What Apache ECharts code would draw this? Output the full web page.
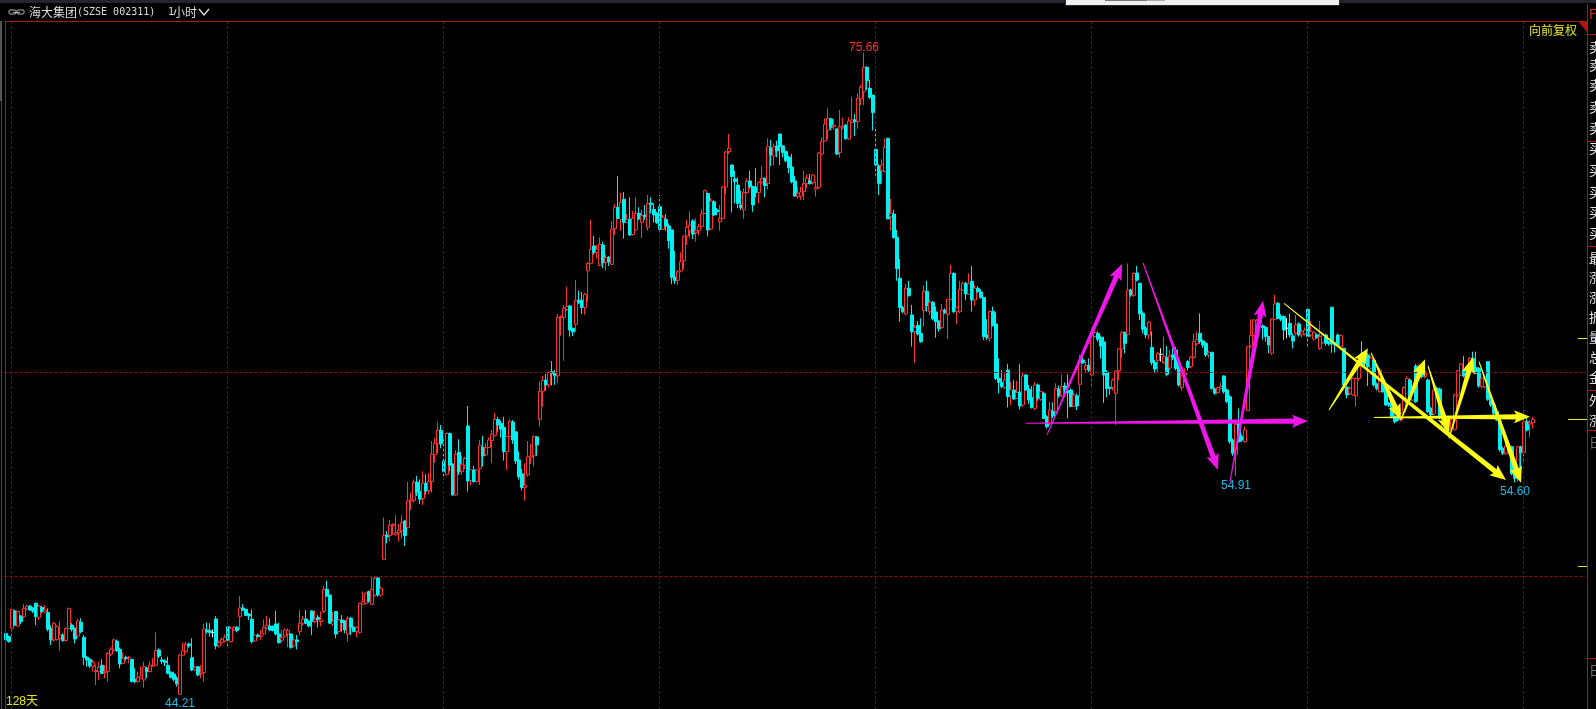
<!DOCTYPE html>
<html><head><meta charset="utf-8">
<style>html,body{margin:0;padding:0;background:#000;overflow:hidden}#c{width:1596px;height:709px}</style>
<script src="https://cdn.jsdelivr.net/npm/echarts@6/dist/echarts.min.js"></script>
</head><body><div id="c"></div>
<script>
// each row: [open, close, low, high]
const candlesA=[[47.20,46.88,46.47,47.34],[47.04,46.80,46.75,47.10],[47.45,48.38,46.96,48.45],[48.30,47.61,47.55,48.36],[47.56,48.27,47.5,48.3],[48.05,47.78,47.65,48.1],[48.02,48.43,47.95,48.63],[48.40,48.51,48.35,48.6],[48.54,48.35,48.3,48.6],[48.43,48.3,48.2,48.5],[48.68,48.02,47.61,48.7],[47.99,48.54,47.86,48.6],[48.48,48.28,48.2,48.55],[48.25,48.35,48.2,48.59],[48.22,47.40,47.3,48.43],[47.45,46.88,46.63,47.6],[46.88,47.70,46.8,47.75],[46.91,47.53,46.85,47.61],[46.96,47.12,46.35,47.81],[47.12,46.85,46.8,47.2],[46.85,47.45,46.8,47.5],[47.45,48.43,47.4,48.45],[47.61,47.40,47.3,47.7],[47.45,46.93,46.71,47.5],[47.07,47.81,47.0,47.91],[47.74,47.29,47.2,47.94],[47.01,46.03,45.65,47.12],[46.03,45.90,45.57,46.1],[45.93,45.60,45.49,46.0],[45.60,45.78,45.33,45.9],[45.33,45.38,44.67,45.65],[45.33,45.54,44.92,45.82],[45.64,45.24,45.21,45.93],[45.28,45.34,45.0,45.65],[45.33,46.22,44.84,46.3],[46.19,46.42,46.1,46.52],[46.39,46.88,46.3,46.96],[46.81,46.35,46.3,46.9],[46.42,45.70,45.49,46.5],[45.73,45.98,45.7,46.26],[46.03,45.96,45.87,46.1],[46.0,46.03,45.73,46.1],[45.93,44.84,44.8,45.95],[44.95,44.84,44.75,45.49],[44.84,45.05,44.8,45.33],[45.0,45.11,44.95,45.57],[44.92,45.57,44.54,45.82],[45.5,45.33,45.0,45.57],[45.33,45.64,45.3,45.82],[45.6,45.64,45.55,45.98],[45.64,46.36,45.6,47.25],[46.39,46.09,46.0,46.47],[45.9,45.83,45.7,46.06],[45.85,45.77,45.6,45.93],[45.64,45.24,45.2,46.06],[45.29,45.05,45.0,45.35],[45.21,44.95,44.84,45.33],[45.01,44.72,44.59,45.1],[44.21,46.14,44.21,46.2],[46.13,46.34,46.1,46.75],[46.31,46.68,46.25,46.8],[46.68,46.6,46.5,46.75],[46.01,45.41,45.35,46.96],[45.41,45.54,45.35,45.6],[45.57,45.16,45.1,45.6],[45.21,45.24,45.0,45.65],[45.28,47.42,44.84,47.66],[47.37,47.29,47.2,47.73],[47.33,47.24,47.04,47.7],[47.24,47.24,47.01,47.4],[47.91,46.58,46.42,48.05],[46.58,46.76,46.5,46.85],[46.75,46.91,46.7,47.0],[46.83,47.01,46.75,47.16],[47.53,46.88,46.45,47.56],[46.80,47.45,46.75,47.5],[47.37,47.5,47.3,47.55],[47.5,47.34,47.25,47.55],[48.02,48.45,47.4,49.03],[48.45,48.35,48.3,48.63],[48.38,48.09,48.05,48.4],[48.15,48.05,47.86,48.2],[47.89,46.8,46.71,48.38],[46.83,47.11,46.8,47.15],[47.12,47.04,47.0,47.2],[47.04,47.07,46.88,47.37],[47.17,47.5,47.1,47.89],[47.47,47.6,47.4,48.05],[47.56,47.37,47.3,47.94],[47.53,47.34,47.3,47.6],[47.66,47.17,47.1,48.32],[47.17,46.75,46.7,47.73],[46.86,47.01,46.8,47.37],[47.07,47.37,47.0,47.45],[47.17,47.34,46.52,47.45],[47.17,46.52,46.45,47.2],[46.58,46.88,46.52,46.99],[46.88,46.8,46.42,47.12],[47.29,47.7,47.12,48.35],[47.7,47.89,47.6,48.05],[47.91,47.7,47.65,48.35],[47.78,47.56,47.5,47.85],[48.3,47.78,47.12,48.35],[47.78,47.89,47.7,48.32],[47.99,47.89,47.5,48.1],[47.78,47.86,47.56,48.27],[48.27,49.36,48.2,49.53],[49.36,49.03,49.0,49.77],[49.08,47.7,47.65,49.1],[47.66,47.78,47.56,48.27],[48.27,47.17,46.96,48.3],[47.29,47.86,47.25,47.9],[47.86,47.73,47.29,48.1],[47.81,47.37,47.2,47.85],[47.16,47.94,46.8,48.05],[47.94,47.5,47.12,48.02],[47.5,47.3,47.25,47.55],[47.29,47.5,47.01,47.55],[47.25,48.68,47.2,48.7],[48.64,48.76,48.6,49.25],[48.68,49.17,48.6,49.2],[49.25,48.79,48.7,49.3],[48.63,49.36,48.6,49.98],[49.08,49.9,49.0,49.98],[49.92,49.08,49.0,49.95],[49.08,49.41,49.0,49.5]];
const candlesB=[[50.83,52.01,50.8,52.89],[52.03,51.94,51.62,52.22],[52.0,52.5,51.7,52.76],[52.49,52.55,52.03,52.6],[52.04,52.14,52.0,53.0],[52.14,52.25,51.7,52.57],[52.24,52.63,51.86,53.0],[52.71,52.0,51.49,52.76],[52.4,53.69,52.35,54.63],[53.7,53.76,53.25,54.1],[53.71,54.61,53.61,54.75],[54.61,54.12,53.94,54.92],[54.15,53.78,53.55,54.75],[53.81,54.56,53.5,55.15],[54.56,54.18,53.98,55.0],[54.2,54.64,54.03,55.05],[54.64,55.98,54.1,56.63],[55.95,56.5,55.57,56.77],[56.49,57.16,56.03,57.56],[57.16,56.49,56.27,57.42],[55.65,55.13,54.75,56.71],[54.98,57.0,54.95,57.05],[57.0,55.45,55.16,57.05],[55.5,53.99,53.95,55.55],[53.99,55.98,53.95,56.19],[56.08,55.13,54.97,56.71],[55.13,55.5,54.97,55.9],[55.45,55.78,55.24,55.86],[57.37,54.67,54.15,58.35],[54.69,55.21,54.47,55.25],[55.21,54.64,54.6,55.41],[54.64,55.21,54.6,55.26],[55.29,56.42,54.47,56.68],[56.32,55.91,55.38,56.88],[55.95,56.32,55.9,56.52],[56.32,56.68,56.3,56.8],[56.65,56.96,55.54,57.17],[56.9,57.69,56.85,58.02],[57.69,57.42,57.09,57.82],[57.5,57.22,56.8,57.63],[57.3,56.11,55.67,57.82],[56.11,56.85,55.21,56.88],[56.85,57.6,56.8,57.71],[57.56,56.68,56.49,57.66],[57.08,55.65,55.5,57.1],[55.7,54.89,54.75,56.11],[55.02,54.35,54.2,55.26],[54.35,54.46,53.71,55.54],[54.97,55.86,54.89,56.63],[55.83,55.9,55.5,56.49],[55.91,56.85,55.38,56.9],[56.83,56.44,55.9,56.87],[57.69,59.07,57.34,59.54],[59.07,59.59,58.32,59.82],[59.62,59.38,59.1,59.92],[59.39,60.0,59.25,60.05],[60.03,59.95,59.35,60.55],[59.95,59.83,59.38,60.11],[59.83,62.69,59.49,62.86],[62.68,62.73,61.8,62.79],[62.69,63.14,60.57,63.27],[63.08,63.22,63.0,64.2],[63.25,62.07,61.75,63.3],[62.15,61.98,61.78,62.2],[62.35,63.53,61.99,64.52],[63.53,63.41,63.35,64.0],[63.53,63.17,62.86,63.94],[63.18,63.82,62.82,63.9],[64.98,65.34,63.46,65.4],[65.34,66.03,65.3,67.47],[66.19,65.87,65.75,66.68],[65.88,66.03,65.59,66.24],[65.23,66.27,65.2,66.62],[66.24,65.38,65.1,66.4],[65.39,65.62,64.98,65.75],[65.64,65.41,65.21,65.7],[65.29,67.01,65.25,67.42],[67.04,68.09,66.73,68.25],[68.09,67.55,67.5,69.62],[67.5,68.33,66.94,68.81],[68.48,67.34,66.55,68.84],[67.35,67.47,67.3,67.76],[67.5,66.73,66.68,68.58],[66.76,67.55,66.7,67.92],[66.98,67.79,66.95,68.58],[67.79,67.52,67.45,68.09],[67.35,67.68,66.58,67.96],[67.71,67.63,67.47,68.2],[67.11,68.28,66.94,68.69],[68.3,68.22,67.79,68.58],[67.99,67.71,67.34,68.28],[67.79,67.34,67.27,67.87],[68.12,67.01,66.94,68.69],[67.01,67.6,66.98,67.71],[67.5,67.17,66.94,67.76],[67.17,66.45,66.06,67.3],[66.98,64.64,64.33,67.0],[64.66,64.49,64.33,65.95],[64.51,64.93,64.28,65.0],[64.97,65.42,64.9,65.88],[65.47,66.67,65.06,66.7],[66.68,67.11,66.24,67.47],[66.94,67.22,66.57,67.89],[67.42,66.78,66.53,67.5],[66.84,66.94,66.4,67.55],[66.96,67.14,66.73,67.27],[67.14,67.79,67.1,67.99],[67.79,68.9,67.75,68.95],[68.77,66.98,66.65,68.8]];
const candlesC=[[67.03,68.38,66.98,68.53],[68.36,67.71,67.65,68.45],[67.96,67.87,67.7,68.05],[67.38,67.55,66.94,68.2],[67.55,69.08,67.5,69.12],[69.08,70.8,68.74,70.85],[70.82,70.98,70.7,71.68],[70.16,69.59,67.83,70.2],[69.48,69.34,68.28,69.88],[69.18,68.28,68.04,69.56],[68.2,68.07,67.96,68.9],[67.96,68.81,67.52,69.02],[68.81,69.36,68.75,69.51],[69.38,69.1,69.0,69.87],[69.1,68.2,67.87,69.15],[69.08,68.81,68.58,70.0],[68.81,69.3,68.28,69.35],[69.3,69.51,69.25,70.11],[69.51,69.15,68.58,69.55],[69.26,71.08,68.97,71.47],[71.0,70.65,70.11,71.39],[70.6,71.06,70.13,71.22],[71.09,70.86,70.54,71.35],[71.68,71.06,70.16,71.7],[71.09,70.77,70.54,71.15],[70.82,70.37,70.3,70.86],[70.55,70.03,69.75,70.6],[70.06,69.33,69.26,70.7],[69.38,68.64,68.6,69.62],[68.61,68.77,68.53,69.1],[68.64,68.84,68.45,69.1],[68.86,69.26,68.45,69.88],[69.26,69.52,69.02,69.7],[69.38,69.25,69.2,69.72],[69.3,69.67,69.2,69.72],[68.98,69.07,68.61,69.35],[69.07,70.75,69.0,70.8],[70.7,71.32,70.65,71.52],[71.34,72.17,71.3,72.45],[71.88,72.45,71.42,72.94],[72.42,72.01,71.85,72.48],[72.04,72.11,71.9,72.4],[71.93,70.7,70.65,71.95],[70.77,72.04,70.52,72.86],[72.01,72.07,71.9,72.48],[72.12,71.45,71.4,72.15],[71.45,72.32,71.4,72.5],[72.25,72.37,72.2,73.51],[72.38,72.29,71.58,72.66],[72.3,73.43,71.94,73.67],[73.41,73.97,73.1,74.08],[73.76,74.95,73.1,75.66],[74.95,74.3,73.84,75.0],[73.92,73.48,73.4,74.33],[73.59,72.73,71.85,73.6],[70.93,70.16,69.64,72.0],[70.11,69.26,68.69,70.2],[69.88,70.16,69.23,70.44],[69.84,71.03,69.8,71.47],[71.47,67.52,67.5,71.5],[67.63,67.79,66.94,68.5],[67.76,66.6,66.55,67.96],[66.62,65.08,64.49,66.98],[64.61,63.17,62.48,65.55],[63.18,62.97,62.89,63.25],[62.86,64.12,62.78,64.33],[64.12,63.76,63.7,64.48],[62.81,61.98,61.26,63.3],[62.0,62.2,60.47,62.32],[62.3,61.88,61.8,62.51],[61.91,61.5,61.45,62.65],[63.02,63.97,62.24,64.26],[63.97,63.27,62.97,64.48],[62.97,63.43,62.81,63.54],[63.43,62.63,62.55,63.5],[62.96,62.48,61.7,63.22],[62.51,62.14,61.99,62.55],[62.19,63.05,62.15,63.35],[63.05,62.92,62.85,63.13],[62.84,63.58,61.63,63.6],[63.58,64.85,63.55,65.26],[64.85,62.97,62.9,64.9],[62.97,63.18,62.37,63.22],[62.97,64.07,62.9,64.48],[64.03,64.36,64.0,64.44],[64.36,63.84,63.54,64.44],[63.84,64.36,63.8,64.85],[64.46,63.54,62.97,65.21],[63.54,64.12,63.27,64.28],[64.12,63.95,63.9,64.23],[63.94,63.67,63.6,64.07],[63.67,61.75,61.58,63.7],[61.83,61.7,61.58,62.6],[61.67,62.99,61.5,63.03],[62.99,62.29,62.25,63.22],[62.37,59.7,59.62,62.94],[59.7,59.51,58.97,60.68],[59.49,59.3,59.21,60.11],[59.25,59.62,59.2,59.95],[60.11,58.8,58.28,60.41],[58.84,59.13,58.4,59.54],[59.13,58.69,58.64,59.62],[58.72,59.0,58.7,59.59],[59.03,58.35,58.18,60.41],[58.4,59.82,58.32,59.98],[59.87,59.13,59.1,59.9],[59.17,58.64,58.45,59.38],[58.76,58.27,58.22,59.33],[58.23,59.38,58.15,59.51],[59.38,58.73,58.6,59.45]];
const candlesD=[[58.67,59.05,58.6,59.1],[58.97,57.74,57.7,59.05],[57.82,57.33,57.25,57.9],[57.47,58.15,57.4,58.56],[58.1,57.87,57.75,58.53],[58.07,59.21,58.0,59.46],[59.18,58.85,58.75,59.35],[58.84,59.3,58.8,59.9],[59.33,59.17,58.9,59.5],[59.1,59.0,57.74,59.9],[59.13,58.32,58.3,59.2],[58.32,58.88,58.3,59.0],[58.84,58.35,58.15,58.95],[59.41,60.47,58.8,60.85],[60.6,60.47,60.4,61.01],[60.15,60.33,59.95,60.52],[60.34,60.11,60.0,60.68],[59.87,61.96,59.25,62.0],[61.75,61.94,61.7,62.0],[61.91,61.62,61.5,62.0],[61.71,61.29,60.67,61.8],[61.49,59.87,58.5,61.75],[60.0,59.21,58.77,60.1],[59.26,59.21,58.9,59.3],[59.25,59.62,59.1,59.7],[58.97,60.06,57.42,60.1],[60.08,61.14,59.6,61.2],[61.14,61.94,60.68,62.04],[61.96,61.42,60.93,62.0],[61.86,64.03,61.8,65.34],[64.03,63.79,63.7,64.1],[63.76,64.85,63.7,64.9],[64.87,64.52,64.45,65.21],[64.36,62.86,62.56,64.4],[62.89,62.11,61.9,63.0],[62.16,61.83,61.67,62.25],[61.83,62.45,61.62,62.5],[61.22,60.47,60.35,62.0],[60.49,60.16,59.95,60.6],[60.57,60.93,59.98,61.0],[60.88,60.88,60.52,61.18],[60.47,60.77,60.4,61.75],[60.73,59.9,59.8,61.29],[60.21,60.81,60.1,61.09],[60.85,60.73,60.6,61.2],[61.09,60.19,60.1,61.25],[60.41,59.38,59.3,60.5],[59.25,60.03,59.1,60.1],[59.87,60.0,59.8,60.2],[60.52,60.24,60.1,60.6],[60.28,60.73,60.2,60.8],[60.73,61.5,60.7,61.91],[61.4,61.6,61.3,62.0],[61.91,61.5,61.4,62.89],[61.53,61.34,61.2,61.6],[61.42,60.85,60.75,61.5],[60.85,60.96,60.7,61.05],[60.98,59.21,59.15,61.0],[59.18,58.97,58.9,59.25],[59.0,59.25,58.95,59.3],[59.21,59.3,59.15,59.49],[59.82,59.05,58.95,59.85],[59.13,58.56,58.5,59.2],[58.8,56.6,56.5,58.9],[56.68,56.03,55.9,56.75],[55.98,57.45,54.91,57.5],[57.5,56.6,56.55,58.23],[56.84,56.68,56.6,56.95],[56.6,57.17,56.55,57.34],[58.12,61.26,58.1,61.3],[61.29,61.8,61.2,62.6],[61.8,62.56,61.75,62.6],[61.83,62.56,61.8,62.6],[62.4,62.7,62.3,62.75],[62.27,62.2,61.6,62.35],[62.2,61.75,61.5,62.25],[61.75,61.34,60.93,61.8],[60.93,62.61,60.85,62.65],[62.6,63.35,62.55,63.79],[63.38,62.64,62.6,63.45],[62.73,62.6,62.5,62.85],[62.73,62.07,61.58,62.8],[62.16,62.16,61.66,62.65],[62.4,61.83,61.7,62.89],[61.78,61.53,61.17,61.9],[61.91,62.32,61.8,62.81],[62.37,61.83,61.75,62.45],[61.83,61.99,61.7,62.1],[61.88,62.07,61.8,62.2]];
const candlesE=[[63.09,61.75,61.26,63.15],[61.83,61.99,61.75,62.51],[61.62,61.96,61.55,62.0],[61.83,61.71,61.65,61.9],[61.17,61.75,61.1,62.51],[61.45,61.83,61.4,61.9],[61.83,61.42,61.3,61.9],[61.5,61.39,61.3,61.55],[63.19,61.39,60.96,63.2],[61.45,61.34,60.97,61.5],[61.83,61.34,61.3,61.9],[61.26,61.8,61.2,61.85],[61.18,59.38,59.3,61.2],[59.26,58.89,58.72,59.35],[58.97,59.21,58.9,59.3],[58.89,59.7,58.85,59.75],[58.84,59.7,58.32,59.75],[59.7,60.28,59.6,60.35],[60.93,60.36,60.3,61.53],[60.69,60.44,60.3,60.85],[60.85,60.28,59.33,60.95],[60.2,60.69,60.15,60.8],[60.6,59.38,59.3,60.7],[59.43,59.21,59.1,59.5],[59.05,60.11,59.0,60.2],[59.62,59.05,59.0,59.7],[59.21,58.4,58.35,59.3],[58.48,58.4,58.3,58.55],[58.56,57.83,57.75,58.6],[57.83,57.58,57.5,57.9],[57.83,57.66,57.6,57.9],[57.66,57.99,57.6,58.05],[58.07,59.26,58.0,59.3],[58.73,59.7,58.7,59.8],[59.62,58.64,58.6,59.7],[58.64,59.13,58.6,59.2],[60.31,58.56,58.5,60.4],[59.79,60.31,59.7,60.4],[60.19,59.79,59.7,60.3],[59.79,60.03,59.7,60.1],[59.62,58.07,58.0,59.7],[58.23,57.91,57.8,58.3],[57.96,59.13,57.9,59.2],[59.21,58.97,58.9,59.3],[59.18,57.83,57.7,59.25],[57.25,57.83,57.2,57.9],[57.42,57.17,57.1,57.5],[57.17,57.69,57.1,57.75],[57.25,57.66,57.1,57.7],[57.2,58.89,57.15,58.95],[58.89,60.08,58.8,60.1],[59.87,60.41,59.8,60.45],[60.11,59.82,59.75,60.8],[60.11,59.95,59.85,60.2],[60.2,60.69,60.15,60.75],[60.69,60.11,60.05,61.01],[60.23,59.95,59.9,61.01],[60.19,59.33,59.25,60.25],[59.29,59.7,59.2,59.75],[59.29,59.79,59.2,59.85],[60.52,58.68,58.6,60.55],[58.68,58.4,58.3,58.75],[58.4,57.99,57.9,58.45],[58.07,57.66,57.6,58.1],[57.58,56.22,56.1,57.65],[56.27,56.03,55.95,56.35],[56.03,56.39,55.95,56.5],[56.11,56.27,56.0,56.6],[56.35,55.02,54.95,56.4],[55.13,54.8,54.6,55.2],[54.85,56.35,54.64,56.4],[56.35,56.06,54.75,56.4],[56.06,57.58,55.62,58.15],[57.58,57.17,57.1,57.75],[57.46,57.53,56.81,57.65],[57.53,57.69,57.25,57.82]];
const slotCount=527;
const gridPrices=[50,60];
const gridSlots=[2.27,74.27,146.27,218.27,290.27,362.27,434.27,506.27];
const priceMarks=[['75.66',286,75.66,'#ff3232','top',-1],['44.21',58,44.21,'#1fb8e8','bottom',3],['54.91',410,54.91,'#1fb8e8','bottom',3.5],['54.60',503,54.60,'#1fb8e8','bottom',3]];
const magentaArrows=[[347,56.93,372,65.31],[340,57.50,434,57.61],[379,65.37,404,55.21],[408,54.64,419,63.51]];
const yellowArrows=[[426,63.38,500,54.72],[441,58.15,454,61.18],[455,60.96,465,57.66],[465,57.66,473,60.64],[474,60.31,481,57.01],[481,56.76,489,60.74],[491,60.52,505,54.59],[456,57.79,508,57.82]];

const rows=[...candlesA,...candlesB,...candlesC,...candlesD,...candlesE];
const cats=Array.from({length:slotCount},(_,i)=>String(i+1));
const candleData=rows.map(r=>r[0]===r[1]?{value:r,itemStyle:{color:'#e8e8e8',color0:'#e8e8e8',borderColor:'#e8e8e8',borderColor0:'#e8e8e8'}}:r);

function arrowItem(color){return function(params,api){
  const a=api.coord([api.value(0),api.value(1)]),b=api.coord([api.value(2),api.value(3)]);
  const dx=b[0]-a[0],dy=b[1]-a[1],L=Math.hypot(dx,dy),ux=dx/L,uy=dy/L,nx=-uy,ny=ux;
  const hl=14,sw=2.6,hw=6.5,tw=.5;
  const n=[b[0]-ux*hl,b[1]-uy*hl];
  return {type:'polygon',shape:{points:[
    [a[0]+nx*tw,a[1]+ny*tw],[n[0]+nx*sw,n[1]+ny*sw],[n[0]-ux*2+nx*hw,n[1]-uy*2+ny*hw],b,
    [n[0]-ux*2-nx*hw,n[1]-uy*2-ny*hw],[n[0]-nx*sw,n[1]-ny*sw],[a[0]-nx*tw,a[1]-ny*tw]]},
    style:{fill:color,stroke:null},silent:true};
};}

const dashV={color:'#780808',type:[3,2],width:1}, dashH={color:'#960a0a',type:[3,2],width:1};
const chart=echarts.init(document.getElementById('c'),null,{renderer:'canvas'});
const WHITE='#dcdcdc',CJK='"Noto Sans CJK SC"',RED='#b01510';
const sideChars=[['F',14,'#e03020'],['卖',47],['卖',65],['卖',85],['卖',107],['卖',128],['买',148],['买',170],['买',192],['买',212],['买',233],['最',258],['涨',277],['涨',297],['振',317],['量',337],['总',357],['金',377],['外',400],['涨',420],['日',442,'#707070'],['日',670,'#707070']];
const rect=(x,y,w,h,fill,z)=>({type:'rect',shape:{x,y,width:w,height:h},style:{fill},z:z||10,silent:true});
const txt=(t,x,y,font,fill,z)=>({type:'text',x,y,style:{text:t,font,fill,textVerticalAlign:'middle'},z:z||12,silent:true});
const graphics=[
  rect(0,0,1596,3,'#22262c'),
  rect(1065,0,275,6,'#2a2a2a',11),rect(1066,0,273,5,'#efefef',12),rect(1105,0,42,1,'#777',13),rect(1147,0,18,1,'#aaa',13),
  rect(5,21,1582,1,RED),rect(5,21,1,688,RED),rect(1587,4,1,705,RED),
  rect(0,21,2,80,'#555',9),rect(1,101,1,608,'#4a4a4a',9),
  {type:'polygon',shape:{points:[[1578,21],[1587,21],[1587,32]]},style:{fill:RED},z:11,silent:true},
  {type:'polyline',shape:{points:[[199,9],[204,15],[209,9]]},style:{stroke:'#e0e0e0',lineWidth:1.4,fill:null},z:12,silent:true},
  {type:'rect',shape:{x:9,y:10,width:7,height:4,r:1},style:{stroke:'#b0b0b0',fill:null,lineWidth:1},z:12,silent:true},
  {type:'rect',shape:{x:17,y:10,width:7,height:4,r:1},style:{stroke:'#b0b0b0',fill:null,lineWidth:1},z:12,silent:true},
  rect(13,12,7,1,'#b0b0b0',12),
  txt('海大集团',29,12.5,'12px '+CJK,WHITE),
  txt('(SZSE 002311)',77,12.5,'10px "DejaVu Sans Mono"',WHITE),
  txt('1',168,12.5,'10px "DejaVu Sans Mono"',WHITE),
  txt('小时',173,12.5,'12px '+CJK,WHITE),
  txt('向前复权',1529,30.5,'12px '+CJK,'#e6e61e'),
  txt('128天',6,702,'12px "Liberation Sans",'+CJK,'#e6e61e'),
  rect(1578,338,9,1,'#e6e61e'),rect(1568,419,19,1,'#e6e61e'),rect(1578,566,9,1,'#e6e61e'),
  rect(1588,34,8,1,RED),rect(1588,141,8,1,RED),rect(1588,246,8,1,RED),rect(1588,390,8,1,RED),rect(1588,430,8,1,RED),rect(1588,658,8,1,RED),
  ...sideChars.map(c=>txt(c[0],1589,c[1],'13px '+CJK,c[2]||'#e8e8e8'))
];
chart.setOption({
  animation:false,backgroundColor:'#000',
  grid:{left:4.5,top:21,width:1581,height:688,containLabel:false},
  xAxis:[{type:'category',data:cats,show:false,boundaryGap:true},{type:'value',show:false,min:0,max:slotCount,splitLine:{show:false}}],
  yAxis:{type:'value',show:false,min:43.495,max:77.22,splitLine:{show:false}},
  series:[
    {type:'custom',xAxisIndex:1,z:1,silent:true,data:[],renderItem:()=>null,
     markLine:{silent:true,symbol:'none',label:{show:false},animation:false,
       data:[...gridPrices.map(v=>({yAxis:v,lineStyle:dashH})),...gridSlots.map(v=>({xAxis:v,lineStyle:dashV}))]}},
    {type:'candlestick',z:3,data:candleData,barWidth:3,silent:true,large:false,
     itemStyle:{color:'#000',color0:'#00f0f0',borderColor:'#ff3232',borderColor0:'#00f0f0',borderWidth:1},
     markPoint:{silent:true,symbol:'circle',symbolSize:0,animation:false,
       data:priceMarks.map(m=>({coord:[m[1],m[2]],label:{show:true,formatter:m[0],color:m[3],font:'12.5px "Liberation Sans"',position:m[4],distance:m[5]}}))}},
    {type:'custom',z:5,silent:true,data:magentaArrows,renderItem:arrowItem('#f015e8'),encode:{x:[0,2],y:[1,3]}},
    {type:'custom',z:6,silent:true,data:yellowArrows,renderItem:arrowItem('#ffff14'),encode:{x:[0,2],y:[1,3]}}
  ],
  graphic:{elements:graphics}
});
</script></body></html>
